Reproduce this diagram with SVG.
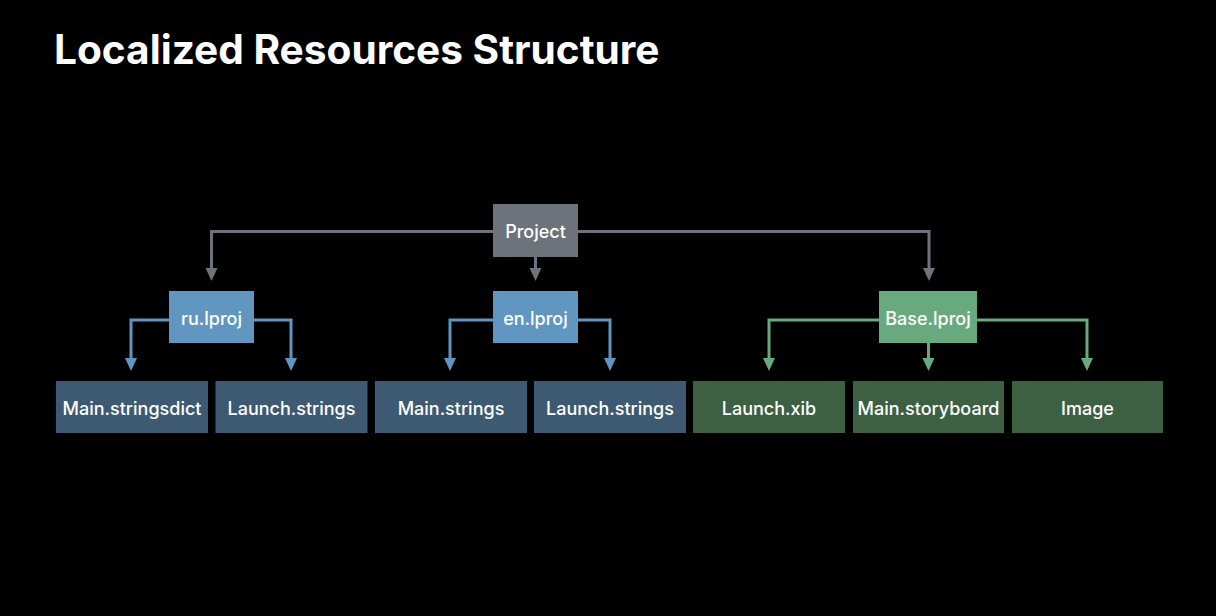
<svg xmlns="http://www.w3.org/2000/svg" width="1216" height="616" viewBox="0 0 1216 616">
<style>
.lbl{font-family:Inter,"Liberation Sans",sans-serif;font-size:18px;font-weight:500;fill:#ffffff;text-anchor:middle;dominant-baseline:central}
.title{font-family:Inter,"Liberation Sans",sans-serif;font-size:40.6px;font-weight:700;fill:#ffffff}
.g{fill:none;stroke:#6d737a;stroke-width:3}
.b{fill:none;stroke:#5f95c0;stroke-width:3}
.gr{fill:none;stroke:#68aa7d;stroke-width:3}
.hg{fill:#6d737a}
.hb{fill:#5f95c0}
.hgr{fill:#68aa7d}
</style>
<rect width="1216" height="616" fill="#000000"/>
<text class="title" x="54" y="64">Localized Resources Structure</text>
<g id="connectors">
<path class="g" d="M493,231.5 H211.5 V268"/>
<path class="hg" d="M205.5,268 H217.5 L211.5,281 Z"/>
<path class="g" d="M578,231.5 H929 V268"/>
<path class="hg" d="M923,268 H935 L929,281 Z"/>
<path class="g" d="M535.5,257 V268"/>
<path class="hg" d="M529.5,268 H541.5 L535.5,281 Z"/>
<path class="b" d="M169,320 H131 V358"/>
<path class="hb" d="M125,358 H137 L131,371 Z"/>
<path class="b" d="M254,320 H291 V358"/>
<path class="hb" d="M285,358 H297 L291,371 Z"/>
<path class="b" d="M493,320 H450 V358"/>
<path class="hb" d="M444,358 H456 L450,371 Z"/>
<path class="b" d="M578,320 H610 V358"/>
<path class="hb" d="M604,358 H616 L610,371 Z"/>
<path class="gr" d="M879,320 H769 V358"/>
<path class="hgr" d="M763,358 H775 L769,371 Z"/>
<path class="gr" d="M977,320 H1087 V358"/>
<path class="hgr" d="M1081,358 H1093 L1087,371 Z"/>
<path class="gr" d="M928.5,343 V358"/>
<path class="hgr" d="M922.5,358 H934.5 L928.5,371 Z"/>
</g>
<g id="project"><rect x="493" y="204" width="85" height="53" fill="#6d737a"/><text class="lbl" x="535.5" y="231">Project</text></g>
<g id="ru"><rect x="169" y="291" width="85" height="52" fill="#6096c0"/><text class="lbl" x="211.5" y="318">ru.lproj</text></g>
<g id="en"><rect x="493" y="291" width="85" height="52" fill="#6096c0"/><text class="lbl" x="535.5" y="318">en.lproj</text></g>
<g id="base"><rect x="879" y="291" width="98" height="52" fill="#68aa7d"/><text class="lbl" x="928" y="318">Base.lproj</text></g>
<g id="ru-main"><rect x="56" y="381" width="152" height="52" fill="#3d5a72"/><text class="lbl" x="132" y="408">Main.stringsdict</text></g>
<g id="ru-launch"><rect x="215.5" y="381" width="152" height="52" fill="#3d5a72"/><text class="lbl" x="291.5" y="408">Launch.strings</text></g>
<g id="en-main"><rect x="375" y="381" width="152" height="52" fill="#3d5a72"/><text class="lbl" x="451" y="408">Main.strings</text></g>
<g id="en-launch"><rect x="534" y="381" width="152" height="52" fill="#3d5a72"/><text class="lbl" x="610" y="408">Launch.strings</text></g>
<g id="launch-xib"><rect x="693" y="381" width="152" height="52" fill="#3c6041"/><text class="lbl" x="769" y="408">Launch.xib</text></g>
<g id="main-storyboard"><rect x="853" y="381" width="151" height="52" fill="#3c6041"/><text class="lbl" x="928.5" y="408">Main.storyboard</text></g>
<g id="image"><rect x="1012" y="381" width="151" height="52" fill="#3c6041"/><text class="lbl" x="1087.5" y="408">Image</text></g>
</svg>
